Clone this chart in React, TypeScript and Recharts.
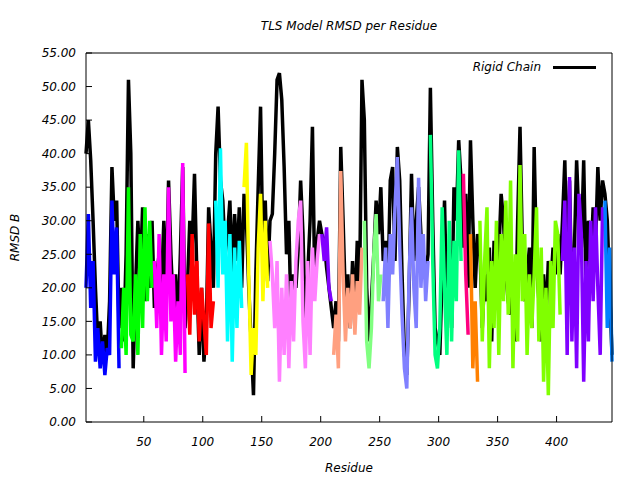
import { LineChart, Line, XAxis, YAxis, Legend } from 'recharts';

// rigid chain RMSD, every 2nd residue (1, 3, 5, ... 447)
const rigid = [
  40, 45, 39, 30, 20, 12, 15, 9, 13, 10,
  18, 38, 30, 33, 14, 20, 12, 25, 51, 40,
  8, 20, 30, 22, 32, 18, 28, 20, 30, 17,
  22, 25, 20, 30, 18, 36, 25, 17, 22, 14,
  25, 38, 14, 20, 30, 26, 37, 22, 10, 20,
  9, 14, 32, 26, 20, 40, 47, 36, 33, 25,
  28, 33, 22, 31, 24, 32, 20, 34, 30, 20,
  12, 4, 22, 35, 47, 25, 33, 21, 30, 31,
  40, 51, 52, 48, 38, 25, 30, 14, 22, 20,
  26, 36, 28, 14, 22, 30, 44, 20, 27, 30,
  28, 27, 23, 20, 17, 14, 18, 12, 41, 30,
  18, 22, 14, 24, 16, 27, 20, 51, 45, 20,
  12, 18, 25, 33, 28, 35, 24, 27, 20, 36,
  38, 24, 41, 36, 22, 10, 7, 20, 37, 24,
  30, 35, 28, 24, 22, 25, 49.8, 30, 14, 12,
  10, 22, 33, 16, 26, 14, 35, 30, 42, 36,
  26, 34, 20, 42, 30, 20, 28, 26, 14, 22,
  18, 26, 12, 27, 20, 25, 34, 30, 22, 18,
  16, 22, 12, 30, 44, 26, 18, 22, 26, 14,
  41, 24, 18, 12, 22, 15, 24, 20, 26, 22,
  28, 22, 30, 39, 22, 36, 18, 25, 39, 30,
  26, 39, 20, 30, 24, 32, 26, 38, 30, 36,
  34, 30, 20, 10,
];

// TLS group model RMSD at the same residues
const tls = [
  20, 31, 17, 24, 9, 14, 8, 12, 7, 11,
  10, 33, 22, 29, 8, 11, 20, 10, 35, 13,
  12, 22, 10, 28, 14, 32, 18, 30, 20, 24,
  14, 28, 10, 22, 12, 35, 15, 22, 9, 18,
  10, 38.6, 7.3, 22, 13, 28, 16, 24, 12, 20,
  15, 10, 29.6, 14, 18, 33, 20, 40.8, 22, 30,
  12, 28, 9, 26, 14, 27, 17, 35, 41.6, 22,
  7, 14, 10, 26, 34, 18, 30, 20, 27, 22,
  14, 24, 6, 20, 10, 22, 8, 21, 12, 24,
  30, 33, 15, 8, 24, 10, 26, 18, 24, 28,
  28, 24, 29, 20, 18, 10, 16, 8, 37.4, 22,
  12, 20, 14, 22, 13, 21, 16, 26, 30, 12,
  8, 14, 25, 31, 18, 22, 18, 26, 14, 28,
  22, 32, 39.5, 26, 16, 8, 5, 22, 32, 20,
  14, 36.4, 20, 28, 18, 24, 42.8, 24, 10, 8,
  14, 32, 20, 10, 30, 12, 27, 18, 40.5, 24,
  37, 22, 13, 28, 8, 18, 6, 30, 12, 24,
  32, 8, 24, 14, 30, 10, 28, 18, 33, 16,
  36, 8, 25, 12, 38.3, 18, 28, 10, 22, 14,
  22, 32, 12, 26, 6, 20, 4, 24, 14, 30,
  28, 16, 24, 33, 10, 36.5, 12, 26, 8, 34,
  28, 6, 24, 12, 30, 18, 32, 20, 10, 32,
  33, 14, 26, 9,
];

// TLS groups: residue ranges and colours
const groupStart = [1, 30, 59, 87, 111, 135, 157, 201, 210, 237, 252, 293, 321, 327, 335, 405, 441];
const groupEnd = [29, 58, 86, 110, 134, 156, 200, 209, 236, 251, 292, 320, 326, 334, 404, 440, 447];
const groupColor = [
  '#0000ff', '#00ff00', '#ff00ff', '#ff0000', '#00ffff', '#ffff00', '#ff80ff', '#8000ff',
  '#ffa080', '#80ff80', '#8080ff', '#00ff80', '#ff0080', '#ff8000', '#80ff00', '#8000ff', '#0080ff',
];

const yTicks = [0, 5, 10, 15, 20, 25, 30, 35, 40, 45, 50, 55];
const xTicks = [50, 100, 150, 200, 250, 300, 350, 400];

const data = rigid.map((v, i) => ({ residue: 1 + 2 * i, rigid: v, tls: tls[i] }));

const font = { fontFamily: 'DejaVu Sans', fontSize: 12, fontStyle: 'italic', fill: '#000' };

const LegendBox = () => (
  <div style={{ display: 'flex', alignItems: 'center', justifyContent: 'flex-end', font: 'italic 12px "DejaVu Sans"' }}>
    <span>Rigid Chain</span>
    <span style={{ display: 'inline-block', width: 43, height: 3, background: '#000', marginLeft: 12 }} />
  </div>
);

const App = () => {
  return (
    <div style={{ position: 'absolute', left: 0, top: 0, width: 640, height: 480, background: '#fff' }}>
      <div
        style={{
          position: 'absolute', left: 86, top: 19, width: 526, textAlign: 'center',
          font: 'italic 12px "DejaVu Sans"', color: '#000',
        }}
      >
        TLS Model RMSD per Residue
      </div>
      <LineChart width={640} height={480} data={data} margin={{ top: 23, right: 0, left: 0, bottom: 0 }}>
        <XAxis
          dataKey="residue"
          type="number"
          domain={[1, 447]}
          ticks={xTicks}
          height={58}
          tickSize={-6}
          tickMargin={21}
          stroke="#000"
          tick={font}
          label={{ value: 'Residue', position: 'insideBottom', offset: 8, style: font }}
        />
        <XAxis
          xAxisId="top"
          orientation="top"
          type="number"
          domain={[1, 447]}
          ticks={xTicks}
          height={30}
          tickSize={-6}
          tick={false}
          stroke="#000"
        />
        <YAxis
          type="number"
          domain={[0, 55]}
          ticks={yTicks}
          width={86}
          tickSize={-6}
          tickMargin={16}
          stroke="#000"
          tick={font}
          tickFormatter={(v: number) => v.toFixed(2)}
          label={{ value: 'RMSD B', angle: -90, position: 'insideLeft', offset: 15, style: { ...font, textAnchor: 'middle' } }}
        />
        <YAxis
          yAxisId="right"
          orientation="right"
          type="number"
          domain={[0, 55]}
          ticks={yTicks}
          width={28}
          tickSize={-6}
          tick={false}
          stroke="#000"
        />
        <Legend
          layout="horizontal"
          verticalAlign="middle"
          align="center"
          content={<LegendBox />}
          wrapperStyle={{ left: 400, top: 60, width: 196 }}
        />
        <Line
          dataKey="rigid"
          name="Rigid Chain"
          stroke="#000"
          strokeWidth={3.5}
          dot={false}
          activeDot={false}
          isAnimationActive={false}
        />
        {groupColor.map((c, g) => (
          <Line
            key={g}
            dataKey={(d: any) => (d.residue >= groupStart[g] && d.residue <= groupEnd[g] ? d.tls : null)}
            stroke={c}
            strokeWidth={3.5}
            dot={false}
            activeDot={false}
            legendType="none"
            isAnimationActive={false}
          />
        ))}
      </LineChart>
    </div>
  );
};

export default App;
